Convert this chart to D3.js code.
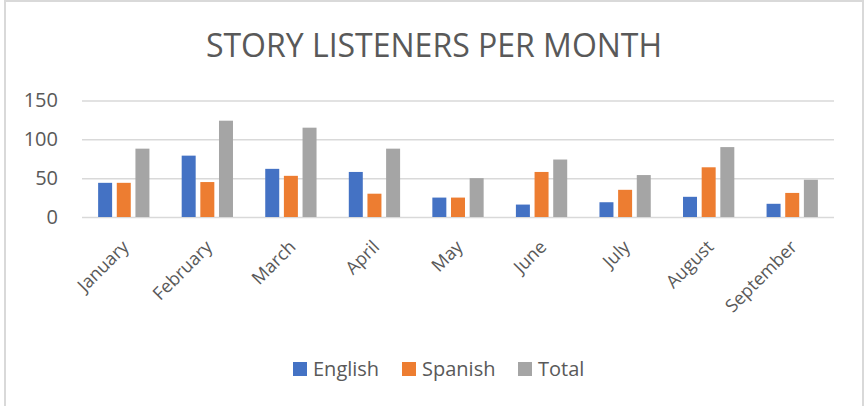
<!DOCTYPE html>
<meta http-equiv="content-type" content="text/html; charset=utf-8" />
<html>
  <head>
    <script src="https://d3js.org/d3.v7.min.js"></script>
    <style>
      body { margin: 0; background: #fff; }
      text { font-family: "Open Sans", "Liberation Sans", sans-serif; fill: #595959; }
    </style>
  </head>
  <body>
    <div id="viz"></div>
    <script>
      // values
      const months = ['January', 'February', 'March', 'April', 'May', 'June', 'July', 'August', 'September'];
      const english = [44, 79, 62, 58, 25, 16, 19, 26, 17];
      const spanish = [44, 45, 53, 30, 25, 58, 35, 64, 31];
      const total = [88, 124, 115, 88, 50, 74, 54, 90, 48];
      const seriesNames = ['English', 'Spanish', 'Total'];
      const colors = ['#4472c4', '#ed7d31', '#a5a5a5'];
      const yTicks = [0, 50, 100, 150];

      const W = 867, H = 406;
      let margin = {top: 100.5, right: 33, bottom: 189, left: 82},
          width = W - margin.left - margin.right,
          height = H - margin.top - margin.bottom;

      let svg = d3.select('#viz')
        .append('svg')
        .attr('width', W)
        .attr('height', H);

      // chart border
      svg.append('rect')
        .attr('x', 5).attr('y', 1)
        .attr('width', 858).attr('height', 430)
        .attr('fill', 'none')
        .attr('stroke', '#d9d9d9')
        .attr('stroke-width', 2);

      svg.append('text')
        .attr('x', 434)
        .attr('y', 57)
        .attr('text-anchor', 'middle')
        .style('font-size', '32px')
        .text('STORY LISTENERS PER MONTH');

      let g = svg.append('g')
        .attr('transform', `translate(${margin.left},${margin.top})`);

      let x = d3.scaleBand()
        .domain(months)
        .range([0, width]);

      let groupW = x.bandwidth() * 0.614;
      let x1 = d3.scaleBand()
        .domain(seriesNames)
        .range([-groupW / 2, groupW / 2])
        .paddingInner(0.25);

      let y = d3.scaleLinear()
        .domain([0, 150])
        .range([height, 0]);

      // gridlines + y labels
      let yAxis = g.append('g')
        .call(d3.axisLeft(y).tickValues(yTicks).tickSize(-width).tickPadding(24));
      yAxis.select('.domain').remove();
      yAxis.selectAll('line')
        .attr('stroke', '#d9d9d9')
        .attr('stroke-width', 1.5);
      yAxis.selectAll('text')
        .style('font-size', '20px')
        .attr('fill', '#595959');

      // x labels
      let xAxis = g.append('g')
        .attr('transform', `translate(0,${height})`)
        .call(d3.axisBottom(x).tickSize(0));
      xAxis.select('.domain').remove();
      xAxis.selectAll('text')
        .style('font-size', '18px')
        .attr('fill', '#595959')
        .attr('text-anchor', 'end')
        .attr('dy', 0)
        .attr('y', 0)
        .attr('transform', 'translate(6,31) rotate(-45)');

      let seriesData = [english, spanish, total];
      seriesData.forEach((vals, si) => {
        g.append('g')
          .selectAll('rect')
          .data(vals)
          .join('rect')
          .attr('x', (d, i) => x(months[i]) + x.bandwidth() / 2 + x1(seriesNames[si]))
          .attr('y', d => y(d))
          .attr('width', x1.bandwidth())
          .attr('height', d => height - y(d))
          .attr('fill', colors[si]);
      });

      // legend
      let legendX = [293, 402, 518];
      let legend = svg.append('g')
        .selectAll('g')
        .data(seriesNames)
        .join('g')
        .attr('transform', (d, i) => `translate(${legendX[i]},362)`);
      legend.append('rect')
        .attr('width', 14).attr('height', 14)
        .attr('fill', (d, i) => colors[i]);
      legend.append('text')
        .attr('x', 20)
        .attr('y', 14)
        .style('font-size', '20px')
        .text(d => d);
    </script>
  </body>
</html>
